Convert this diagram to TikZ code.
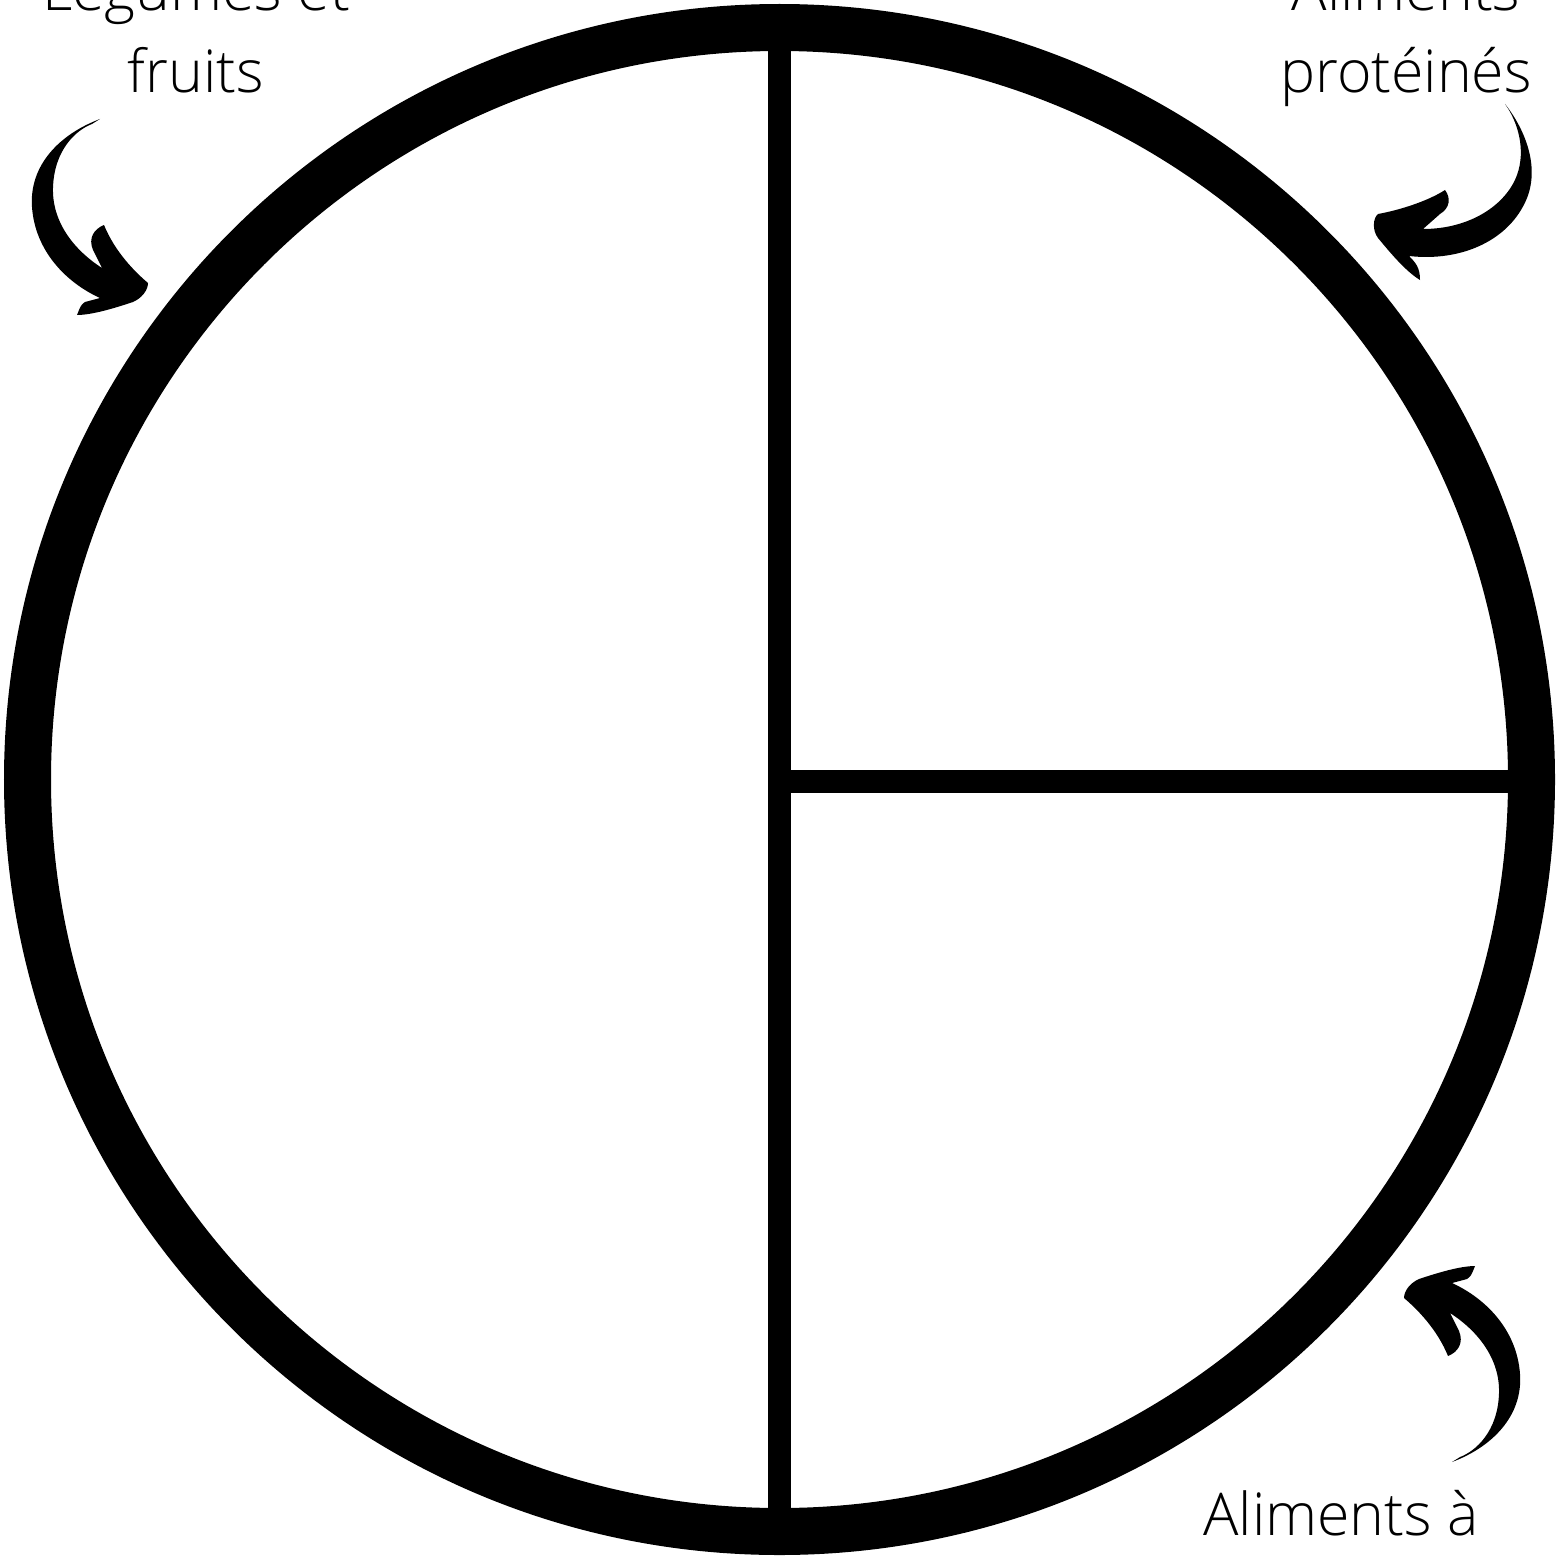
\documentclass[tikz,border=0pt]{standalone}
\usepackage{fontspec}
\setmainfont{Open Sans}[UprightFont=* Light]
\begin{document}
\begin{tikzpicture}[x=1pt,y=-1pt,
  rim/.style={circle,draw=black,line width=47pt,minimum size=1504pt,inner sep=0pt,outer sep=0pt},
  divider/.style={draw=black,line width=23pt},
  label/.style={align=center,font=\fontsize{59}{82}\selectfont,inner sep=0pt,anchor=base},
  hand/.style={fill=black}]
\useasboundingbox (0,0) rectangle (1555,1557);
\fill[white] (0,0) rectangle (1555,1557);

\node[rim] (plate) at (779.5,779.5) {};
\coordinate (top) at (779.5,40);
\coordinate (bot) at (779.5,1520);
\coordinate (mid) at (779.5,781.5);
\coordinate (right) at (1520,781.5);
\draw[divider] (top) -- (bot);
\draw[divider] (mid) -- (right);

\node[label] (veg) at (196,93) {Légumes et\\fruits};
\node[label] (prot) at (1406,93) {Aliments\\protéinés};
\node[label] (grain) at (1341,1535) {Aliments à};

% arrow near "Légumes et fruits"
\def\arrowA{%
  (100,119) .. controls (60,134) and (29,165) .. (32,207)
  .. controls (35,250) and (65,282) .. (100,298)
  -- (85,302) .. controls (81,305) .. (77,315)
  .. controls (92,315) and (115,308) .. (133,302)
  .. controls (142,298) and (148,290) .. (148,283)
  .. controls (135,272) and (115,252) .. (104,225)
  .. controls (94,229) and (88,238) .. (93,250)
  -- (102,268)
  .. controls (74,250) and (52,222) .. (53,188)
  .. controls (54,150) and (76,130) .. (92,124)
  .. controls (96,122) .. (100,119)
  -- cycle}
\fill[hand] \arrowA;
\begin{scope}[shift={(1552,1581)},xscale=-1,yscale=-1]
\fill[hand] \arrowA;
\end{scope}

% arrow near "Aliments protéinés"
\fill[hand]
  (1505,104) .. controls (1524,128) and (1540,165) .. (1527,198)
  .. controls (1510,240) and (1462,262) .. (1409,256)
  .. controls (1416,263) and (1420,268) .. (1420,280)
  .. controls (1405,271) and (1388,250) .. (1378,238)
  .. controls (1372,230) and (1373,218) .. (1378,214)
  .. controls (1400,210) and (1428,201) .. (1445,190)
  .. controls (1451,198) and (1450,208) .. (1440,214)
  -- (1423,229)
  .. controls (1470,229) and (1506,205) .. (1517,175)
  .. controls (1526,150) and (1518,122) .. (1505,104)
  -- cycle;
\end{tikzpicture}
\end{document}
